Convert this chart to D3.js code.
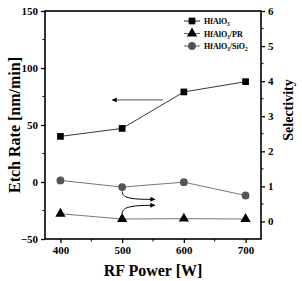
<!DOCTYPE html>
<html><head><meta charset="utf-8">
<script src="https://cdn.jsdelivr.net/npm/d3@7"></script>
<style>body{margin:0;background:#fff}svg{display:block}text{font-family:"Liberation Serif","Times New Roman",serif;font-weight:bold}</style>
</head><body><svg id="c" width="302" height="281"></svg>
<script>
const powers = [400, 500, 600, 700];
const etchRate = [40, 47, 79, 88];
const selPR = [0.22, 0.07, 0.08, 0.07];
const selSiO2 = [1.17, 0.98, 1.12, 0.74];
const xTicks = [400, 500, 600, 700];
const yLeftTicks = [-50, 0, 50, 100, 150];
const yRightTicks = [0, 1, 2, 3, 4, 5, 6];

const svg = d3.select("#c");
const L = 45, R = 261, T = 11, B = 239;
const x = d3.scaleLinear().domain([375, 725]).range([L, R]);
const yL = d3.scaleLinear().domain([-50, 150]).range([B, T]);
const yR = d3.scaleLinear().domain([-0.5, 6]).range([B, T]);

const g = svg.append("g");
[450,550,650].forEach(v=>g.append("line").attr("x1",x(v)).attr("x2",x(v)).attr("y1",B).attr("y2",B+2.5).attr("stroke","#000").attr("stroke-width",1));
[-25,25,75,125].forEach(v=>g.append("line").attr("x1",L).attr("x2",L-2.5).attr("y1",yL(v)).attr("y2",yL(v)).attr("stroke","#000").attr("stroke-width",1));
[0.5,1.5,2.5,3.5,4.5,5.5].forEach(v=>g.append("line").attr("x1",R).attr("x2",R+2.5).attr("y1",yR(v)).attr("y2",yR(v)).attr("stroke","#000").attr("stroke-width",1));

const ax = svg.append("g").attr("transform",`translate(0,${B})`).call(d3.axisBottom(x).tickValues(xTicks).tickSize(4).tickPadding(3).tickFormat(d3.format("d")));
const ayl = svg.append("g").attr("transform",`translate(${L},0)`).call(d3.axisLeft(yL).tickValues(yLeftTicks).tickSize(4).tickPadding(3).tickFormat(d3.format("d")));
const ayr = svg.append("g").attr("transform",`translate(${R},0)`).call(d3.axisRight(yR).tickValues(yRightTicks).tickSize(4).tickPadding(3).tickFormat(d3.format("d")));
[ax,ayl,ayr].forEach(a=>{
  a.select(".domain").remove();
  a.selectAll("line").attr("stroke","#000").attr("stroke-width",1.3);
  a.selectAll("text").attr("font-size",11).attr("fill","#000").style("font-family","Liberation Serif").style("font-weight","bold");
});
svg.append("rect").attr("x",L).attr("y",T).attr("width",R-L).attr("height",B-T).attr("fill","none").attr("stroke","#000").attr("stroke-width",1.6);

const line = (ys,ysc)=>d3.line().x((d,i)=>x(powers[i])).y(d=>ysc(d))(ys);
svg.append("path").attr("d",line(etchRate,yL)).attr("fill","none").attr("stroke","#222").attr("stroke-width",0.9);
svg.append("path").attr("d",line(selPR,yR)).attr("fill","none").attr("stroke","#666").attr("stroke-width",0.9);
svg.append("path").attr("d",line(selSiO2,yR)).attr("fill","none").attr("stroke","#666").attr("stroke-width",0.9);

const sq = d3.symbol().type(d3.symbolSquare).size(45);
const tri = d3.symbol().type(d3.symbolTriangle).size(45);
const cir = d3.symbol().type(d3.symbolCircle).size(48);
etchRate.forEach((v,i)=>svg.append("path").attr("d",sq()).attr("transform",`translate(${x(powers[i])},${yL(v)})`).attr("fill","#000"));
selPR.forEach((v,i)=>svg.append("path").attr("d",tri()).attr("transform",`translate(${x(powers[i])},${yR(v)})`).attr("fill","#000"));
selSiO2.forEach((v,i)=>svg.append("path").attr("d",cir()).attr("transform",`translate(${x(powers[i])},${yR(v)})`).attr("fill","#555"));

const defs = svg.append("defs");
defs.append("marker").attr("id","ah").attr("viewBox","0 0 10 10").attr("refX",9).attr("refY",5)
  .attr("markerWidth",7).attr("markerHeight",5).attr("markerUnits","userSpaceOnUse").attr("orient","auto")
  .append("path").attr("d","M0,0L10,5L0,10Z").attr("fill","#000");
svg.append("line").attr("x1",x(566)).attr("x2",x(484)).attr("y1",yL(72)).attr("y2",yL(72))
  .attr("stroke","#555").attr("stroke-width",1).attr("marker-end","url(#ah)");
function bez(p0,p1,p2,p3){ const P=p=>[x(p[0]),yR(p[1])]; const a=P(p0),b=P(p1),c=P(p2),d=P(p3);
  return `M${a}C${b} ${c} ${d}`; }
svg.append("path").attr("d",bez([500,0.86],[500,0.64],[520,0.63],[553,0.63]))
  .attr("fill","none").attr("stroke","#000").attr("stroke-width",1).attr("marker-end","url(#ah)");
svg.append("path").attr("d",bez([500,0.22],[500,0.44],[520,0.46],[553,0.46]))
  .attr("fill","none").attr("stroke","#000").attr("stroke-width",1).attr("marker-end","url(#ah)");

const leg = [
  {sym:sq, fill:"#000", stroke:"#222", label:["HfAlO","3",""]},
  {sym:tri, fill:"#000", stroke:"#666", label:["HfAlO","3","/PR"]},
  {sym:cir, fill:"#555", stroke:"#666", label:["HfAlO","3","/SiO","2"]}
];
leg.forEach((d,i)=>{
  const yy = 21 + i*12.5;
  svg.append("line").attr("x1",184).attr("x2",200).attr("y1",yy).attr("y2",yy).attr("stroke",d.stroke).attr("stroke-width",1);
  svg.append("path").attr("d",d.sym()).attr("transform",`translate(192,${yy})`).attr("fill",d.fill);
  const t = svg.append("text").attr("x",204).attr("y",yy+3).attr("font-size",8).attr("fill","#000");
  t.append("tspan").text(d.label[0]);
  t.append("tspan").attr("font-size",5.5).attr("dy",2).text(d.label[1]);
  if(d.label[2]) t.append("tspan").attr("dy",-2).text(d.label[2]);
  if(d.label[3]) t.append("tspan").attr("font-size",5.5).attr("dy",2).text(d.label[3]);
});

svg.append("text").attr("x",(L+R)/2).attr("y",276).attr("text-anchor","middle").attr("font-size",16).text("RF Power [W]");
svg.append("text").attr("transform",`translate(20,${(T+B)/2}) rotate(-90)`).attr("text-anchor","middle").attr("font-size",16).text("Etch Rate [nm/min]");
svg.append("text").attr("transform",`translate(293,${(T+B)/2-15}) rotate(-90)`).attr("text-anchor","middle").attr("font-size",14).text("Selectivity");
</script></body></html>
